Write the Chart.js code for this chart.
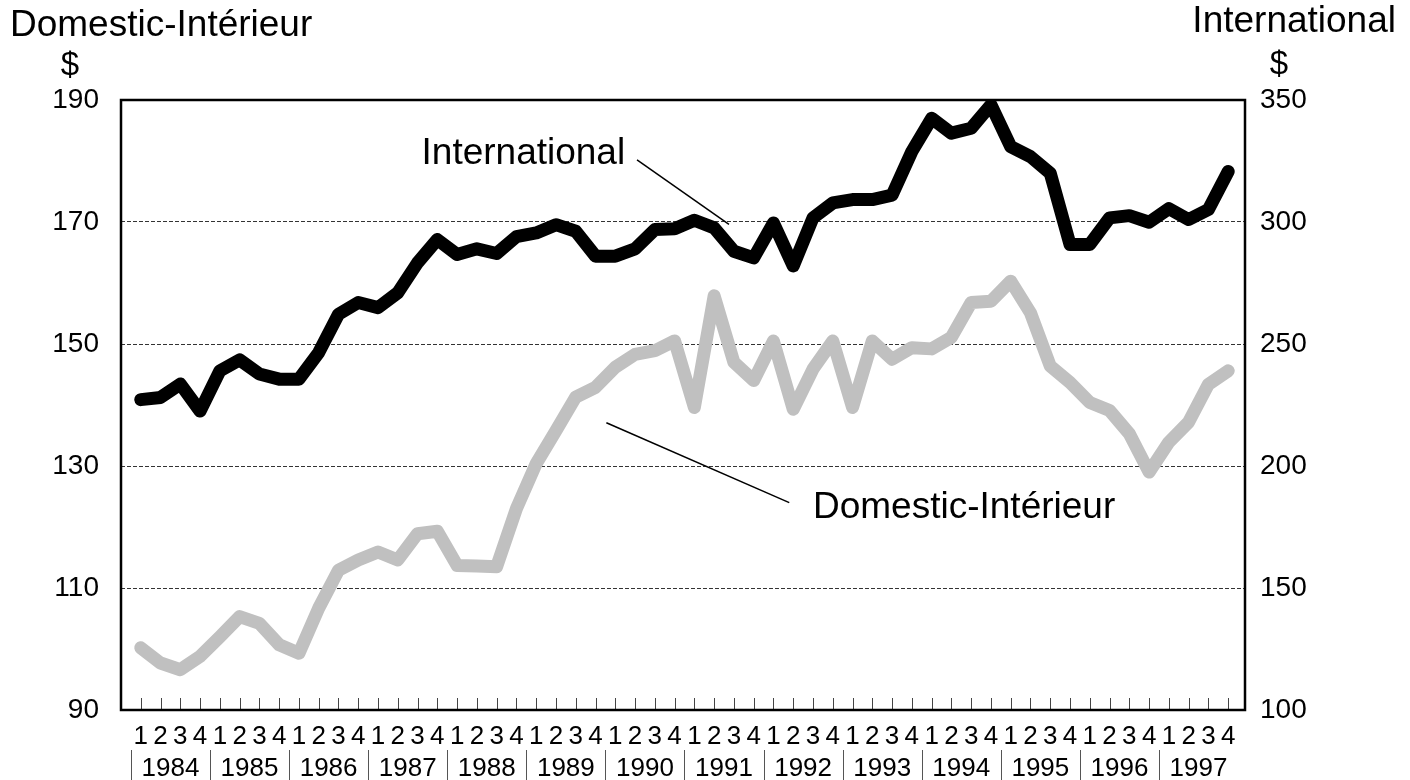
<!DOCTYPE html>
<html>
<head>
<meta charset="utf-8">
<script src="https://cdn.jsdelivr.net/npm/chart.js@4.4.1/dist/chart.umd.min.js"></script>
<style>
  html, body { margin: 0; padding: 0; background: #fff; }
  #wrap { width: 1410px; height: 780px; }
</style>
</head>
<body>
<div id="wrap"><canvas id="fareChart" width="1410" height="780"></canvas></div>
<script>
// Quarterly average fares, 1984Q1 - 1997Q4
var quarterLabels = [
  '1', '2', '3', '4', '1', '2', '3', '4', '1', '2', '3', '4', '1', '2', '3', '4',
  '1', '2', '3', '4', '1', '2', '3', '4', '1', '2', '3', '4', '1', '2', '3', '4',
  '1', '2', '3', '4', '1', '2', '3', '4', '1', '2', '3', '4', '1', '2', '3', '4',
  '1', '2', '3', '4', '1', '2', '3', '4'
];
var years = ['1984', '1985', '1986', '1987', '1988', '1989', '1990',
             '1991', '1992', '1993', '1994', '1995', '1996', '1997'];

// left axis ($)
var domestic = [
  100.2, 97.7, 96.6, 98.8,
  102.0, 105.3, 104.2, 100.7,
  99.3, 106.7, 112.9, 114.6,
  115.9, 114.6, 118.9, 119.3,
  113.7, 113.6, 113.5, 123.0,
  130.4, 135.8, 141.3, 142.9,
  146.2, 148.3, 148.9, 150.5,
  139.6, 157.9, 147.0, 144.0,
  150.5, 139.3, 145.9, 150.5,
  139.6, 150.5, 147.5, 149.4,
  149.2, 151.1, 156.8, 157.0,
  160.3, 155.1, 146.4, 143.7,
  140.4, 139.1, 135.3, 129.0,
  133.9, 137.2, 143.4, 145.6
];
// right axis ($)
var international = [
  227.2, 228.1, 233.6, 222.5,
  239.0, 243.5, 237.7, 235.6,
  235.6, 246.5, 262.2, 267.0,
  264.9, 271.0, 283.3, 292.8,
  286.7, 289.0, 287.1, 294.0,
  295.5, 298.9, 296.2, 286.0,
  286.0, 289.0, 296.9, 297.2,
  300.7, 297.6, 288.0, 285.3,
  299.6, 282.0, 301.7, 307.8,
  309.2, 309.2, 311.0, 328.9,
  342.5, 336.4, 338.4, 348.0,
  330.9, 326.8, 320.0, 290.8,
  290.8, 301.7, 302.6, 299.9,
  305.5, 301.0, 305.1, 320.7
];

var fontFamily = '"Liberation Sans", Arial, Helvetica, sans-serif';

// call-out labels, placed in data units (x = quarter index, y = left axis)
var notes = [
  { text: 'International', x: 14.2, y: 179.5, from: [25.1, 180.2], to: [29.75, 169.6] },
  { text: 'Domestic-Intérieur', x: 34.0, y: 121.4, from: [23.55, 137.1], to: [32.8, 124.0] }
];

function toPoints(values) {
  return values.map(function (v, i) { return { x: i, y: v }; });
}

var decorPlugin = {
  id: 'decor',
  beforeDatasetsDraw: function (chart) {
    var ctx = chart.ctx, a = chart.chartArea, xs = chart.scales.x;
    ctx.save();
    // small tick marks pointing into the plot
    ctx.strokeStyle = '#444';
    ctx.lineWidth = 1;
    ctx.beginPath();
    for (var i = 0; i < quarterLabels.length; i++) {
      var px = Math.round(xs.getPixelForValue(i)) + 0.5;
      ctx.moveTo(px, a.bottom - 12);
      ctx.lineTo(px, a.bottom);
    }
    ctx.stroke();
    // frame
    ctx.strokeStyle = '#000';
    ctx.lineWidth = 2.5;
    ctx.strokeRect(a.left, a.top, a.right - a.left, a.bottom - a.top);
    ctx.restore();
  },
  afterDatasetsDraw: function (chart) {
    var ctx = chart.ctx, a = chart.chartArea, xs = chart.scales.x, ys = chart.scales.y;
    ctx.save();

    // year row with separators
    ctx.fillStyle = '#000';
    ctx.font = '26px ' + fontFamily;
    ctx.textAlign = 'center';
    ctx.textBaseline = 'alphabetic';
    ctx.strokeStyle = '#555';
    ctx.lineWidth = 1;
    years.forEach(function (yr, k) {
      var sep = Math.round(xs.getPixelForValue(4 * k - 0.5)) + 0.5;
      ctx.beginPath();
      ctx.moveTo(sep, a.bottom + 40);
      ctx.lineTo(sep, a.bottom + 70);
      ctx.stroke();
      ctx.fillText(yr, xs.getPixelForValue(4 * k + 1.5), a.bottom + 66);
    });

    // call-outs
    ctx.font = '37px ' + fontFamily;
    ctx.textAlign = 'left';
    ctx.strokeStyle = '#000';
    ctx.lineWidth = 1.5;
    notes.forEach(function (n) {
      ctx.fillText(n.text, xs.getPixelForValue(n.x), ys.getPixelForValue(n.y));
      ctx.beginPath();
      ctx.moveTo(xs.getPixelForValue(n.from[0]), ys.getPixelForValue(n.from[1]));
      ctx.lineTo(xs.getPixelForValue(n.to[0]), ys.getPixelForValue(n.to[1]));
      ctx.stroke();
    });

    // axis titles
    ctx.font = '37px ' + fontFamily;
    ctx.textAlign = 'left';
    ctx.fillText('Domestic-Intérieur', 10, 36);
    ctx.textAlign = 'right';
    ctx.fillText('International', 1396, 32);
    ctx.font = '33px ' + fontFamily;
    ctx.textAlign = 'center';
    ctx.fillText('$', 70, 75);
    ctx.fillText('$', 1279, 74);
    ctx.restore();
  }
};

var chart = new Chart(document.getElementById('fareChart'), {
  type: 'line',
  data: {
    datasets: [
      {
        label: 'Domestic-Intérieur',
        data: toPoints(domestic),
        yAxisID: 'y',
        borderColor: '#c0c0c0',
        borderWidth: 13,
        borderJoinStyle: 'round',
        borderCapStyle: 'round',
        pointRadius: 0,
        tension: 0,
        fill: false
      },
      {
        label: 'International',
        data: toPoints(international),
        yAxisID: 'y2',
        borderColor: '#000',
        borderWidth: 13,
        borderJoinStyle: 'round',
        borderCapStyle: 'round',
        pointRadius: 0,
        tension: 0,
        fill: false
      }
    ]
  },
  options: {
    responsive: false,
    devicePixelRatio: 1,
    animation: false,
    layout: { padding: { top: 100, left: 0, right: 0, bottom: 0 } },
    plugins: { legend: { display: false }, tooltip: { enabled: false } },
    scales: {
      x: {
        type: 'linear',
        min: -1,
        max: 55.85,
        afterBuildTicks: function (scale) {
          scale.ticks = quarterLabels.map(function (q, i) { return { value: i }; });
        },
        afterFit: function (scale) { scale.height = 70; },
        grid: { display: false, drawTicks: false },
        border: { display: false },
        ticks: {
          autoSkip: false,
          maxRotation: 0,
          padding: 11,
          color: '#000',
          font: { family: fontFamily, size: 26 },
          callback: function (value, index) { return quarterLabels[index]; }
        }
      },
      y: {
        position: 'left',
        min: 90,
        max: 190,
        afterFit: function (scale) { scale.width = 121; },
        grid: { color: '#333', lineWidth: 1, drawTicks: false },
        border: { display: false, dash: [4, 2] },
        ticks: {
          stepSize: 20,
          padding: 22,
          color: '#000',
          font: { family: fontFamily, size: 28 }
        }
      },
      y2: {
        position: 'right',
        min: 100,
        max: 350,
        afterFit: function (scale) { scale.width = 165; },
        grid: { drawOnChartArea: false, drawTicks: false },
        border: { display: false },
        ticks: {
          stepSize: 50,
          padding: 15,
          color: '#000',
          font: { family: fontFamily, size: 28 }
        }
      }
    }
  },
  plugins: [decorPlugin]
});
</script>
</body>
</html>
